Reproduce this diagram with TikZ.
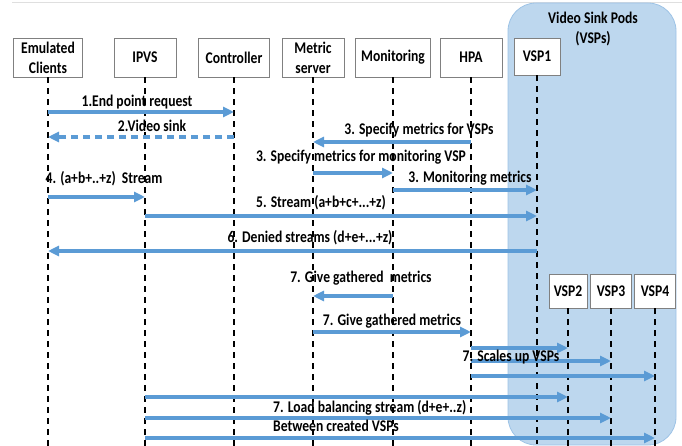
\documentclass[tikz,border=0pt]{standalone}
\usepackage{fontspec}
\setmainfont{Carlito}
\usetikzlibrary{arrows.meta}

\definecolor{msgblue}{HTML}{5B9BD5}
\definecolor{podfill}{HTML}{BDD7EE}
\definecolor{podline}{HTML}{9DC3E6}
\newcommand\diafont{\bfseries\fontsize{13.6}{16.7}\selectfont}

\begin{document}
\begin{tikzpicture}[x=1pt,y=-1pt,
  actor/.style={draw=gray, fill=white, line width=0.8pt, align=center,
    inner sep=0pt, font=\diafont, yscale=1.2},
  lbl/.style={anchor=base, inner sep=0pt, font=\diafont, yscale=1.2},
  life/.style={black, line width=1.3pt, dash pattern=on 6pt off 5pt},
  msg/.style={msgblue, line width=3.2pt, -{Triangle[length=11pt,width=10pt]}},
  reply/.style={msg, dash pattern=on 7pt off 5pt}]

  \useasboundingbox (0,0) rectangle (682,446);

  % frame line and the pod area
  \draw[gray!25] (12,2) -- (682,2);
  \draw[podline, fill=podfill, line width=0.8pt, rounded corners=28pt]
    (508,3) rectangle (676,445);
  \node[lbl, align=center] (pods) at (593,44) {Video Sink Pods\\(VSPs)};

  % actors
  \node[actor, minimum width=69pt, minimum height=32.5pt] (cli)  at (48,57.5)  {Emulated\\Clients};
  \node[actor, minimum width=62pt, minimum height=32.5pt] (ipvs) at (145,57.5) {IPVS};
  \node[actor, minimum width=71pt, minimum height=32.5pt] (ctl)  at (234,57.5) {Controller};
  \node[actor, minimum width=62pt, minimum height=32.5pt] (met)  at (313,57.5) {Metric\\server};
  \node[actor, minimum width=75pt, minimum height=32.5pt] (mon)  at (393,57.5) {Monitoring};
  \node[actor, minimum width=62pt, minimum height=32.5pt] (hpa)  at (471,57.5) {HPA};
  \node[actor, minimum width=46pt, minimum height=30.8pt] (vsp1) at (537,56.5) {VSP1};
  \node[actor, minimum width=38pt, minimum height=28.3pt] (vsp2) at (568,291)  {VSP2};
  \node[actor, minimum width=41pt, minimum height=28.3pt] (vsp3) at (611,291)  {VSP3};
  \node[actor, minimum width=41pt, minimum height=28.3pt] (vsp4) at (655,291)  {VSP4};

  % lifelines
  \coordinate (bot) at (0,446);
  \foreach \n in {cli,ipvs,ctl,met,mon,hpa,vsp1,vsp2,vsp3,vsp4}
    \draw[life] (\n.south) -- (\n.south |- bot);

  % messages
  \draw[msg]   (cli |- 0,112)  -- (ctl |- 0,112);
  \node[lbl] (m1) at (137,107) {1.End point request};
  \draw[reply] (ctl |- 0,137)  -- (cli |- 0,137);
  \node[lbl] (m2) at (152,132) {2.Video sink};
  \draw[msg]   (hpa |- 0,142)  -- (met |- 0,142);
  \node[lbl] (m3) at (419,135) {3. Specify metrics for VSPs};
  \draw[msg]   (met |- 0,173)  -- (mon |- 0,173);
  \node[lbl] (m4) at (361,162) {3. Specify metrics for monitoring VSP};
  \draw[msg]   (mon |- 0,190)  -- (vsp1 |- 0,190);
  \node[lbl] (m5) at (470,183) {3. Monitoring metrics};
  \draw[msg]   (cli |- 0,197)  -- (ipvs |- 0,197);
  \node[lbl] (m6) at (104,184) {4. (a+b+..+z) \ Stream};
  \draw[msg]   (ipvs |- 0,216) -- (vsp1 |- 0,216);
  \node[lbl] (m7) at (321,208) {5. Stream (a+b+c+...+z)};
  \draw[msg]   (vsp1 |- 0,251) -- (cli |- 0,251);
  \node[lbl] (m8) at (310,243) {6. Denied streams (d+e+...+z)};
  \draw[msg]   (mon |- 0,296)  -- (met |- 0,296);
  \node[lbl] (m9) at (361,282) {7. Give gathered\ \ metrics};
  \draw[msg]   (met |- 0,332)  -- (hpa |- 0,332);
  \node[lbl] (m10) at (392,325) {7. Give gathered metrics};

  % scaling up
  \draw[msg] (hpa |- 0,348) -- (vsp2 |- 0,348);
  \draw[msg] (hpa |- 0,361) -- (vsp3 |- 0,361);
  \draw[msg] (hpa |- 0,376) -- (vsp4 |- 0,376);
  \node[lbl] (m11) at (511,361) {7. Scales up VSPs};

  % load balancing
  \draw[msg] (ipvs |- 0,397) -- (vsp2 |- 0,397);
  \draw[msg] (ipvs |- 0,418) -- (vsp3 |- 0,418);
  \draw[msg] (ipvs |- 0,438) -- (vsp4 |- 0,438);
  \node[lbl, anchor=base west] (m12) at (273,412) {7. Load balancing stream (d+e+..z)};
  \node[lbl, anchor=base west] (m13) at (273,431) {Between created VSPs};

\end{tikzpicture}
\end{document}
